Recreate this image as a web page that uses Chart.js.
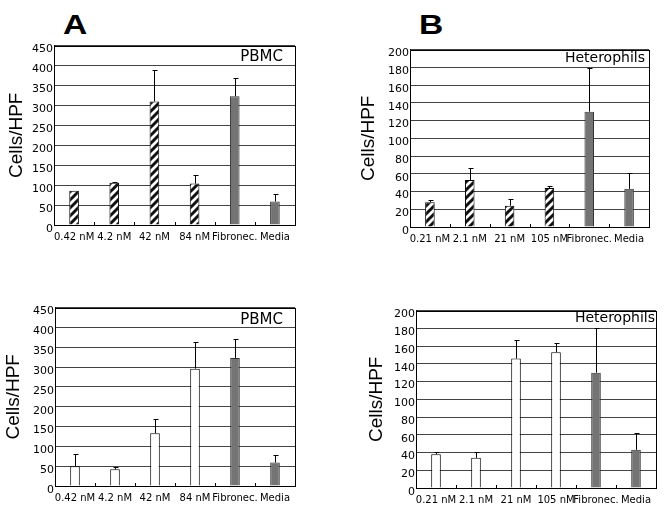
<!DOCTYPE html>
<html><head><meta charset="utf-8">
<script src="https://cdn.jsdelivr.net/npm/chart.js@4.4.0/dist/chart.umd.min.js"></script>
<style>
html,body{margin:0;padding:0;background:#fff;}
body{width:667px;height:512px;position:relative;overflow:hidden;}
.panel{position:absolute;}
.letter{position:absolute;font-family:"Liberation Sans",Arial,sans-serif;font-weight:bold;font-size:28px;line-height:28px;transform:scaleX(1.2);transform-origin:0 0;color:#000;}
</style></head><body>
<div class="letter" style="left:63px;top:11px">A</div>
<div class="letter" style="left:419px;top:11px">B</div>
<div class="panel" style="left:0px;top:38px;width:300px;height:210px"><canvas id="c1"></canvas></div>
<div class="panel" style="left:350px;top:42px;width:305px;height:208px"><canvas id="c2"></canvas></div>
<div class="panel" style="left:0px;top:300px;width:300px;height:209px"><canvas id="c3"></canvas></div>
<div class="panel" style="left:350px;top:303px;width:312px;height:208px"><canvas id="c4"></canvas></div>
<script>
// ---- data ----
const catsPBMC = ['0.42 nM', '4.2 nM', '42 nM', '84 nM', 'Fibronec.', 'Media'];
const catsHet = ['0.21 nM', '2.1 nM', '21 nM', '105 nM', 'Fibronec.', 'Media'];
const pbmcTopValues = [86, 106, 310, 104, 323, 59];
const pbmcTopErrors = [0, 3, 80, 21, 46, 19];
const hetTopValues = [28, 53, 24, 44, 130, 43];
const hetTopErrors = [2.5, 13, 8, 2, 49, 18];
const pbmcBottomValues = [50, 42, 133, 296, 323, 59];
const pbmcBottomErrors = [30, 5, 37, 68, 47, 19];
const hetBottomValues = [38, 34, 146, 153, 130, 43];
const hetBottomErrors = [3, 7, 21, 10, 50, 19];
const pbmcMax = 450, pbmcStep = 50;
const hetMax = 200, hetStep = 20;
const yTitle = 'Cells/HPF';

// ---- styles ----
function hatch() {
  const c = document.createElement('canvas');
  c.width = 8; c.height = 8;
  const g = c.getContext('2d');
  g.fillStyle = '#fff'; g.fillRect(0, 0, 8, 8);
  g.strokeStyle = '#111'; g.lineWidth = 3;
  g.beginPath();
  g.moveTo(-2, 2); g.lineTo(2, -2);
  g.moveTo(0, 8); g.lineTo(8, 0);
  g.moveTo(6, 10); g.lineTo(10, 6);
  g.stroke();
  return c.getContext('2d').createPattern(c, 'repeat');
}
const HATCH = hatch();
const GRAY = '#747474';
const topFills = [HATCH, HATCH, HATCH, HATCH, GRAY, GRAY];
const botFills = ['#fff', '#fff', '#fff', '#fff', GRAY, GRAY];
const borders = ['#000', '#000', '#000', '#000', '#333', '#333'];

const deco = {
  id: 'deco',
  afterDatasetsDraw(chart, args, opts) {
    const ctx = chart.ctx, a = chart.chartArea;
    const x = chart.scales.x, y = chart.scales.y;
    const meta = chart.getDatasetMeta(0);
    const vals = chart.data.datasets[0].data;
    ctx.save();
    ctx.strokeStyle = '#000'; ctx.lineWidth = 1;
    meta.data.forEach((el, i) => {
      const e = opts.errors[i];
      if (!e) return;
      const xp = Math.round(el.x) + 0.5;
      const yt = Math.round(y.getPixelForValue(vals[i] + e)) + 0.5;
      ctx.beginPath();
      ctx.moveTo(xp, el.y); ctx.lineTo(xp, yt);
      ctx.moveTo(xp - 2, yt); ctx.lineTo(xp + 3, yt);
      ctx.stroke();
    });
    const w = (a.right - a.left) / chart.data.labels.length;
    for (let i = 0; i < chart.data.labels.length - 1; i++) {
      const xp = Math.round(x.getPixelForValue(i) + w / 2) + 0.5;
      ctx.beginPath(); ctx.moveTo(xp, a.bottom); ctx.lineTo(xp, a.bottom - 3); ctx.stroke();
    }
    ctx.strokeRect(Math.round(a.left) + 0.5, Math.round(a.top) + 0.5, Math.round(a.right - a.left), Math.round(a.bottom - a.top));
    ctx.fillStyle = '#000';
    ctx.font = opts.font;
    ctx.textAlign = 'right'; ctx.textBaseline = 'top';
    ctx.fillText(opts.label, a.right - opts.labelRight, a.top + opts.labelTop);
    ctx.restore();
  }
};

function make(id, cats, values, errors, fills, max, step, yWidth, titlePad, padRight, label, labelRight, labelTop, labelFont) {
  new Chart(document.getElementById(id), {
    type: 'bar',
    data: {
      labels: cats,
      datasets: [{
        data: values,
        backgroundColor: fills,
        borderColor: borders,
        borderWidth: 1,
        barPercentage: 0.24,
        categoryPercentage: 1
      }]
    },
    options: {
      responsive: true, maintainAspectRatio: false, animation: false,
      devicePixelRatio: 1,
      layout: { padding: { top: 5, right: padRight, left: 0, bottom: 5 } },
      plugins: {
        legend: { display: false }, tooltip: { enabled: false },
        deco: { errors: errors, label: label, labelRight: labelRight, labelTop: labelTop, font: labelFont }
      },
      scales: {
        x: {
          grid: { display: false, drawTicks: false },
          border: { display: true, color: '#000', width: 1 },
          ticks: { autoSkip: false, maxRotation: 0, minRotation: 0, padding: 6, color: '#000',
                   font: { family: 'DejaVu Sans', size: 10 } },
          afterFit: s => { s.height = 18; }
        },
        y: {
          min: 0, max: max,
          grid: { color: '#444', lineWidth: 1, drawTicks: false },
          border: { display: true, color: '#000', width: 1 },
          ticks: { stepSize: step, padding: 1, color: '#000', labelOffset: 4,
                   font: { family: 'DejaVu Sans', size: 11 } },
          title: { display: true, text: yTitle, color: '#000', padding: { top: titlePad, bottom: 0 },
                   font: { family: 'Liberation Sans', size: 19, lineHeight: 1 } },
          afterFit: s => { s.width = yWidth; }
        }
      }
    },
    plugins: [deco]
  });
}

make('c1', catsPBMC, pbmcTopValues, pbmcTopErrors, topFills, pbmcMax, pbmcStep, 54, 7, 5, 'PBMC', 12, 4, '15px "DejaVu Sans"');
make('c2', catsHet, hetTopValues, hetTopErrors, topFills, hetMax, hetStep, 60, 9, 6, 'Heterophils', 4, 2, '14px "DejaVu Sans"');
make('c3', catsPBMC, pbmcBottomValues, pbmcBottomErrors, botFills, pbmcMax, pbmcStep, 55, 4, 5, 'PBMC', 12, 5, '15px "DejaVu Sans"');
make('c4', catsHet, hetBottomValues, hetBottomErrors, botFills, hetMax, hetStep, 66, 17, 6, 'Heterophils', 1, 1, '14px "DejaVu Sans"');
</script>
</body></html>
